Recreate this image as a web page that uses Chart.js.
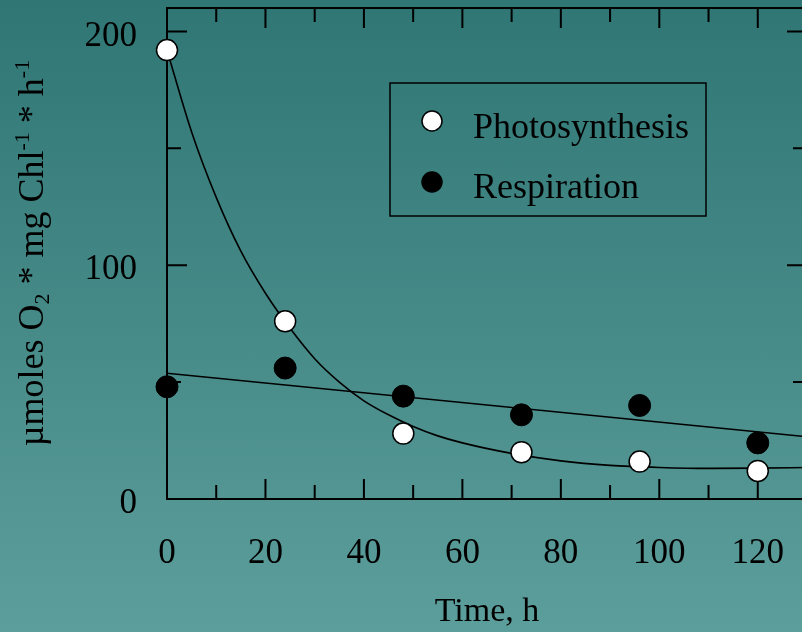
<!DOCTYPE html>
<html>
<head>
<meta charset="utf-8">
<script src="https://cdn.jsdelivr.net/npm/chart.js@4.4.0/dist/chart.umd.min.js"></script>
<style>
    html, body { margin: 0; padding: 0; overflow: hidden; }
    body { width: 802px; height: 632px; background: linear-gradient(to bottom, #2f7674, #5c9e9b); }
    #wrap { width: 802px; height: 632px; overflow: hidden; }
    canvas { display: block; }
</style>
</head>
<body>
<div id="wrap"><canvas id="chart" width="819" height="632"></canvas></div>
<script>
// Measured points
const timeHours = [0, 24, 48, 72, 96, 120];
const photosynthesis = [192, 76, 28, 20, 16, 12];
const respiration = [48, 56, 44, 36, 40, 24];

// Fitted curves
const fitTime = [0, 5, 10, 15, 20, 25, 30, 35, 40, 45, 50, 55, 60, 70, 80, 90, 100, 110, 120, 130];
const photosynthesisFit = [192, 157, 129, 106, 88, 73, 60, 50, 42, 36, 31, 27, 24, 19.5, 16.3, 14.4, 13.5, 13.1, 13.2, 13.5];
const respirationFitTime = [0, 130];
const respirationFit = [53.8, 26.6];

// Axis ticks
const xTickValues = [0, 20, 40, 60, 80, 100, 120];
const xMinorTicks = [10, 30, 50, 70, 90, 110, 130];
const yTickValues = [0, 100, 200];
const yMinorTicks = [50, 150];
const yFrameTop = 210;   // value where the top border of the frame sits

const FONT = '"Liberation Serif", "Times New Roman", serif';

const toPoints = (xs, ys) => xs.map((x, i) => ({ x: x, y: ys[i] }));

// Scales report no extra padding, so the plot area is set by layout.padding alone
const noPadding = s => {
    s.paddingLeft = 0;
    s.paddingRight = 0;
    s.paddingTop = 0;
    s.paddingBottom = 0;
};

// Frame with inward ticks on all four sides
const framePlugin = {
    id: 'frame',
    beforeDatasetsDraw(chart) {
        const { ctx, chartArea, scales } = chart;
        const { left, right, bottom } = chartArea;
        const top = scales.y.getPixelForValue(yFrameTop);
        ctx.save();
        ctx.strokeStyle = '#000';
        ctx.lineWidth = 2;
        ctx.strokeRect(left, top, right - left, bottom - top);
        ctx.beginPath();
        const xTick = (v, len) => {
            const px = scales.x.getPixelForValue(v);
            ctx.moveTo(px, bottom); ctx.lineTo(px, bottom - len);
            ctx.moveTo(px, top); ctx.lineTo(px, top + len);
        };
        const yTick = (v, len) => {
            const py = scales.y.getPixelForValue(v);
            ctx.moveTo(left, py); ctx.lineTo(left + len, py);
            ctx.moveTo(right, py); ctx.lineTo(right - len, py);
        };
        xTickValues.forEach(v => xTick(v, 20));
        xMinorTicks.forEach(v => xTick(v, 14));
        yTickValues.forEach(v => yTick(v, 20));
        yMinorTicks.forEach(v => yTick(v, 14));
        ctx.stroke();
        ctx.restore();
    }
};

// Y title with sub/superscripts
const yTitleParts = [
    { text: '\u00b5moles O', shift: 0 },
    { text: '2', shift: -1 },
    { text: ' * mg Chl', shift: 0 },
    { text: '-1', shift: 1 },
    { text: ' * h', shift: 0 },
    { text: '-1', shift: 1 }
];

const yTitlePlugin = {
    id: 'yTitle',
    afterDraw(chart) {
        const ctx = chart.ctx;
        const base = 36, small = 22;
        ctx.save();
        ctx.fillStyle = '#000';
        ctx.textBaseline = 'alphabetic';
        ctx.textAlign = 'left';
        let total = 0;
        yTitleParts.forEach(p => {
            ctx.font = (p.shift ? small : base) + 'px ' + FONT;
            p.w = ctx.measureText(p.text).width;
            total += p.w;
        });
        ctx.translate(43, 253);
        ctx.rotate(-Math.PI / 2);
        let x = -total / 2;
        yTitleParts.forEach(p => {
            ctx.font = (p.shift ? small : base) + 'px ' + FONT;
            const dy = p.shift > 0 ? -14 : (p.shift < 0 ? 6 : 0);
            ctx.fillText(p.text, x, dy);
            x += p.w;
        });
        ctx.restore();
    }
};

// Boxed legend inside the plot
const legendPlugin = {
    id: 'boxLegend',
    afterDraw(chart) {
        const ctx = chart.ctx;
        ctx.save();
        ctx.strokeStyle = '#000';
        ctx.lineWidth = 1.5;
        ctx.strokeRect(390, 83, 316, 133);
        const items = [
            { ds: chart.data.datasets[0], y: 121, base: 138 },
            { ds: chart.data.datasets[1], y: 182, base: 198 }
        ];
        items.forEach(it => {
            ctx.beginPath();
            ctx.arc(432, it.y, 10, 0, Math.PI * 2);
            ctx.fillStyle = it.ds.pointBackgroundColor;
            ctx.fill();
            ctx.lineWidth = 1.5;
            ctx.strokeStyle = '#000';
            ctx.stroke();
            ctx.fillStyle = '#000';
            ctx.font = '36px ' + FONT;
            ctx.textBaseline = 'alphabetic';
            ctx.fillText(it.ds.label, 473, it.base);
        });
        ctx.restore();
    }
};

new Chart(document.getElementById('chart'), {
    type: 'scatter',
    data: {
        datasets: [
            {
                label: 'Photosynthesis',
                data: toPoints(timeHours, photosynthesis),
                pointRadius: 10.5,
                pointBackgroundColor: '#ffffff',
                pointBorderColor: '#000000',
                pointBorderWidth: 1.5,
                showLine: false,
                clip: false,
                order: 0
            },
            {
                label: 'Respiration',
                data: toPoints(timeHours, respiration),
                pointRadius: 11,
                pointBackgroundColor: '#000000',
                pointBorderColor: '#000000',
                pointBorderWidth: 1,
                showLine: false,
                clip: false,
                order: 0
            },
            {
                label: 'Photosynthesis fit',
                data: toPoints(fitTime, photosynthesisFit),
                showLine: true,
                pointRadius: 0,
                borderColor: '#000000',
                borderWidth: 1.6,
                cubicInterpolationMode: 'monotone',
                order: 1
            },
            {
                label: 'Respiration fit',
                data: toPoints(respirationFitTime, respirationFit),
                showLine: true,
                pointRadius: 0,
                borderColor: '#000000',
                borderWidth: 1.6,
                order: 1
            }
        ]
    },
    options: {
        responsive: false,
        animation: false,
        devicePixelRatio: 1,
        layout: { padding: { top: 8, right: 5, left: 0, bottom: 0 } },
        plugins: {
            legend: { display: false },
            tooltip: { enabled: false }
        },
        scales: {
            x: {
                type: 'linear',
                min: 0,
                max: 130,
                afterBuildTicks: s => { s.ticks = xTickValues.map(v => ({ value: v })); },
                afterFit: s => { s.height = 133; noPadding(s); },
                grid: { display: false, drawTicks: false },
                border: { display: false },
                ticks: {
                    padding: 34,
                    color: '#000',
                    maxRotation: 0,
                    autoSkip: false,
                    font: { family: FONT, size: 35 }
                },
                title: {
                    display: true,
                    text: 'Time, h',
                    color: '#000',
                    font: { family: FONT, size: 34 },
                    padding: { top: 0, bottom: 0 }
                }
            },
            y: {
                min: 0,
                max: 208.3,
                afterBuildTicks: s => { s.ticks = yTickValues.map(v => ({ value: v })); },
                afterFit: s => { s.width = 167; noPadding(s); },
                grid: { display: false, drawTicks: false },
                border: { display: false },
                ticks: {
                    padding: 30,
                    labelOffset: 5,
                    color: '#000',
                    font: { family: FONT, size: 35 }
                }
            }
        }
    },
    plugins: [framePlugin, yTitlePlugin, legendPlugin]
});
</script>
</body>
</html>
